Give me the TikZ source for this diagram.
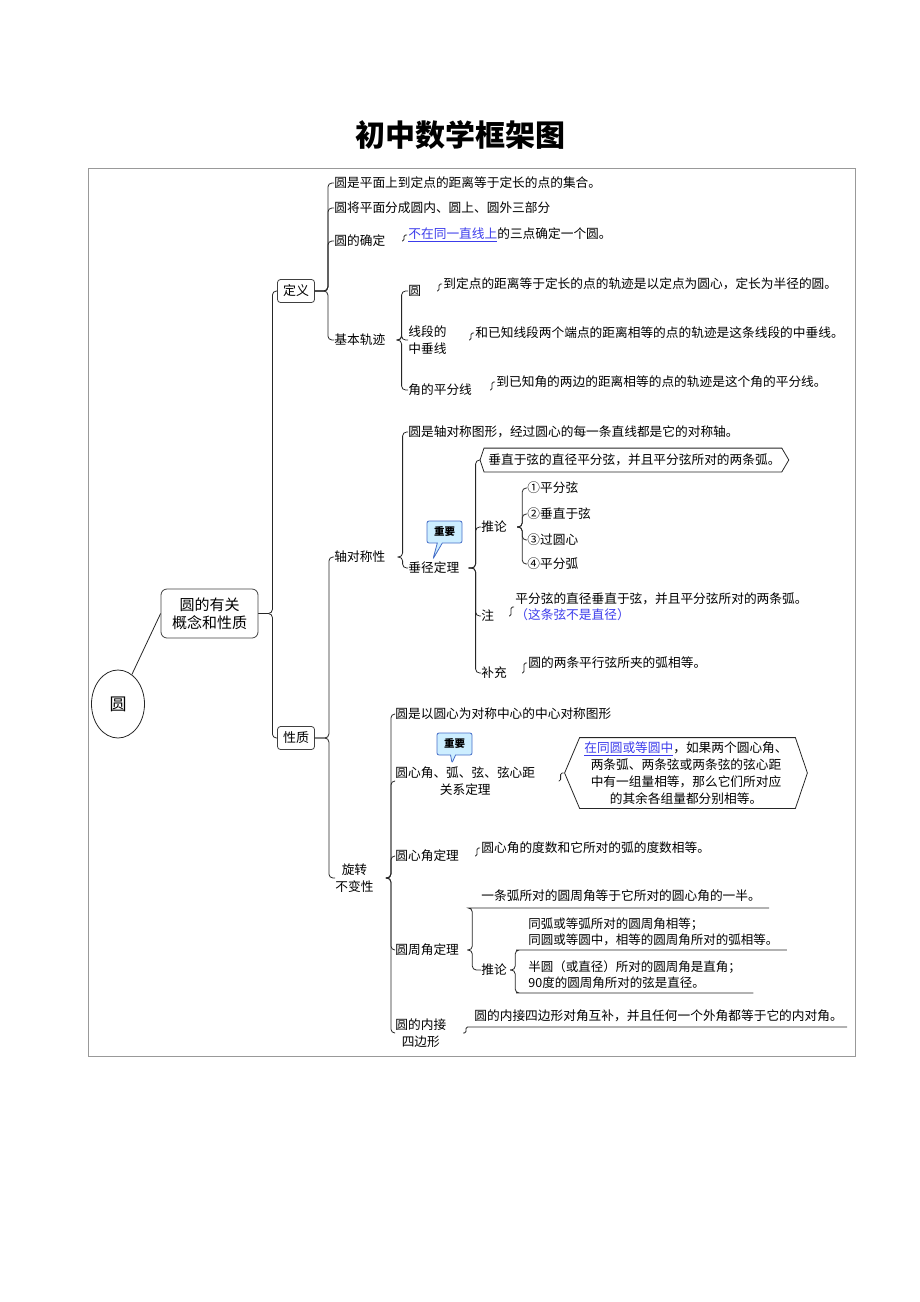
\documentclass[tikz,border=0pt]{standalone}
\usepackage{fontspec}
\setmainfont{Noto Sans CJK SC}
\usetikzlibrary{calc}
\usetikzlibrary{shapes.geometric}
\usetikzlibrary{shapes.callouts}
\definecolor{lnk}{RGB}{60,60,235}
\definecolor{imppen}{RGB}{70,110,200}
\definecolor{impfill}{RGB}{205,238,255}
\tikzset{every picture/.style={
    every path/.style={line width=0.8pt},
}}
\tikzset{
    txt/.style={anchor=west, inner sep=0pt, font=\fontsize{12.7}{17}\selectfont},
    brk/.style={draw=black!85, rounded corners=4pt},
    hk/.style={draw=black!85, rounded corners=1.5pt},
    topic/.style={draw=black!75, rounded corners=3pt, inner sep=0pt, minimum width=37pt, minimum height=23pt, font=\fontsize{13}{15}\selectfont},
    imp/.style={rectangle callout, draw=imppen, fill=impfill, rounded corners=2pt, minimum width=35pt, minimum height=22pt, inner sep=0pt, callout pointer width=5pt, font=\fontsize{10.5}{12}\selectfont\bfseries},
}

\begin{document}
\begin{tikzpicture}[x=1pt,y=-1pt]
    \useasboundingbox (0,0) rectangle (920,1302);
    \node[font=\fontsize{30}{32}\selectfont\bfseries] (title) at (460,135) {初中数学框架图};
    \draw[black!40] (88,168) rectangle (855,1056);

    % root and first level
    \node[draw=black!85, ellipse, inner sep=0pt, minimum width=53pt, minimum height=68pt, font=\fontsize{17}{19}\selectfont] (root) at (118,704) {圆};
    \node[draw=black!75, rounded corners=6pt, inner sep=0pt, minimum width=97pt, minimum height=49pt, align=center, font=\fontsize{15}{18}\selectfont] (gn) at (209.5,613.5) {圆的有关\\概念和性质};
    \draw[black!85] (root) -- (gn.west);
    \node[topic] (dingyi) at (296,291) {定义};
    \node[topic] (xingzhi) at (296,738) {性质};
    \foreach \c in {dingyi,xingzhi} \draw[brk] (gn.east) -- ++(14,0) |- (\c.west);

    % definition
    \node[txt] (d1) at (334,183) {圆是平面上到定点的距离等于定长的点的集合。};
    \node[txt] (d2) at (334,208) {圆将平面分成圆内、圆上、圆外三部分};
    \node[txt] (d3) at (334,241) {圆的确定};
    \node[txt] (d4) at (334,340) {基本轨迹};
    \foreach \c in {d1,d2,d3,d4} \draw[brk] (dingyi.east) -- ++(13,0) |- (\c.west);
    \node[txt] (d3a) at (408,235) {{\color{lnk}\underline{不在同一直线上}}的三点确定一个圆。};
    \draw[hk] ($(d3a.west |- d3.east)+(-6,0)$) -- ++(2,0) |- ([xshift=-1pt]d3a.west);

    \node[txt] (g1) at (408,291) {圆};
    \node[txt, align=left] (g2) at (408,340) {线段的\\中垂线};
    \node[txt] (g3) at (408,390) {角的平分线};
    \foreach \c in {g1,g2,g3} \draw[brk] ([xshift=11pt]d4.east) -- ++(5,0) |- (\c.west);
    \node[txt] (g1a) at (443,284) {到定点的距离等于定长的点的轨迹是以定点为圆心，定长为半径的圆。};
    \node[txt] (g2a) at (475,333) {和已知线段两个端点的距离相等的点的轨迹是这条线段的中垂线。};
    \node[txt] (g3a) at (496,382) {到已知角的两边的距离相等的点的轨迹是这个角的平分线。};
    \foreach \p/\c in {g1/g1a,g2/g2a,g3/g3a}
        \draw[hk] ($(\c.west |- \p.east)+(-6,0)$) -- ++(2,0) |- ([xshift=-1pt]\c.west);

    % properties
    \node[txt] (x1) at (334,557) {轴对称性};
    \node[txt, align=center] (x2) at (335,878) {旋转\\不变性};
    \foreach \c in {x1,x2} \draw[brk] (xingzhi.east) -- ++(14,0) |- (\c.west);

    % axial symmetry
    \node[txt] (z1) at (408,432) {圆是轴对称图形，经过圆心的每一条直线都是它的对称轴。};
    \node[txt] (z2) at (408,568) {垂径定理};
    \foreach \c in {z1,z2} \draw[brk] ([xshift=12pt]x1.east) -- ++(5,0) |- (\c.west);
    \coordinate (tip1) at (433,559);
    \node[imp, callout absolute pointer={(tip1)}] (imp1) at (444.5,532) {重要};

    \node[anchor=west, inner sep=0pt, minimum width=308pt, minimum height=23pt, font=\fontsize{12.7}{17}\selectfont] (c1) at (480,460) {垂直于弦的直径平分弦，并且平分弦所对的两条弧。};
    \draw[black!85] (c1.west) -- ([xshift=4pt]c1.north west) -- ([xshift=-7pt]c1.north east) -- (c1.east)
        -- ([xshift=-7pt]c1.south east) -- ([xshift=4pt]c1.south west) -- cycle;
    \node[txt] (c2) at (481,527) {推论};
    \node[txt] (c3) at (481,616) {注};
    \node[txt] (c4) at (481,673) {补充};
    \foreach \c in {c1,c2,c3,c4} \draw[brk] ([xshift=9pt]z2.east) -- ++(7,0) |- (\c.west);

    \node[txt] (t1) at (527,488) {①平分弦};
    \node[txt] (t2) at (527,514) {②垂直于弦};
    \node[txt] (t3) at (527,540) {③过圆心};
    \node[txt] (t4) at (527,564) {④平分弧};
    \foreach \c in {t1,t2,t3,t4} \draw[brk] ([xshift=10pt]c2.east) -- ++(5,0) |- (\c.west);

    \node[txt, align=left, font=\fontsize{12.7}{16}\selectfont] (c3a) at (515,607) {平分弦的直径垂直于弦，并且平分弦所对的两条弧。\\{\color{lnk}（这条弦不是直径）}};
    \node[txt] (c4a) at (528,663) {圆的两条平行弦所夹的弧相等。};
    \foreach \p/\c in {c3/c3a,c4/c4a}
        \draw[hk] ($(\c.west |- \p.east)+(-6,0)$) -- ++(2,0) |- ([xshift=-1pt]\c.west);

    % rotation invariance
    \node[txt] (r1) at (395,714) {圆是以圆心为对称中心的中心对称图形};
    \node[txt, align=center] (r2) at (395,781) {圆心角、弧、弦、弦心距\\关系定理};
    \node[txt] (r3) at (395,856) {圆心角定理};
    \node[txt] (r4) at (395,950) {圆周角定理};
    \node[txt, align=center] (r5) at (395,1033) {圆的内接\\四边形};
    \foreach \c in {r1,r2,r3,r4,r5} \draw[brk] ([xshift=12pt]x2.east) -- ++(5,0) |- (\c.west);
    \coordinate (tip2) at (452,763);
    \node[imp, callout absolute pointer={(tip2)}] (imp2) at (454.5,744) {重要};

    \node[inner sep=0pt, minimum width=242pt, minimum height=70pt, align=center, font=\fontsize{12.7}{17}\selectfont] (r2a) at (686,773)
        {{\color{lnk}\underline{在同圆或等圆中}}，如果两个圆心角、\\两条弧、两条弦或两条弦的弦心距\\中有一组量相等，那么它们所对应\\的其余各组量都分别相等。};
    \draw[black!85] (r2a.west) -- ([xshift=15pt]r2a.north west) -- ([xshift=-12pt]r2a.north east) -- (r2a.east)
        -- ([xshift=-12pt]r2a.south east) -- ([xshift=15pt]r2a.south west) -- cycle;
    \draw[hk] ($(r2a.west |- r2.east)+(-6,0)$) -- ++(2,0) |- ([xshift=-1pt]r2a.west);

    \node[txt] (r3a) at (481,848) {圆心角的度数和它所对的弧的度数相等。};
    \draw[hk] ($(r3a.west |- r3.east)+(-6,0)$) -- ++(2,0) |- ([xshift=-1pt]r3a.west);

    \node[txt] (p1) at (481,896) {一条弧所对的圆周角等于它所对的圆心角的一半。};
    \node[txt] (p2) at (481,970) {推论};
    \draw[brk] ([xshift=8pt]r4.east) -- ++(5,0) |- ($(p1.west)+(-9,12)$) -- ($(p1.east)+(8,12)$);
    \draw[brk] ([xshift=8pt]r4.east) -- ++(5,0) |- (p2.west);

    \node[txt, align=left, font=\fontsize{12.5}{16}\selectfont] (q1) at (528,932) {同弧或等弧所对的圆周角相等；\\同圆或等圆中，相等的圆周角所对的弧相等。};
    \node[txt, align=left, font=\fontsize{12.5}{16}\selectfont] (q2) at (528,975) {半圆（或直径）所对的圆周角是直角；\\90度的圆周角所对的弦是直径。};
    \draw[brk] ([xshift=3pt]p2.east) -- ++(5,0) |- ($(q1.west)+(-8,18)$) -- ($(q1.east)+(8,18)$);
    \draw[brk] ([xshift=3pt]p2.east) -- ++(5,0) |- ($(q2.west)+(-8,18)$) -- ($(q2.east)+(12,18)$);

    \node[txt] (r5a) at (474,1016) {圆的内接四边形对角互补，并且任何一个外角都等于它的内对角。};
    \draw[hk] ($(r5a.west |- r5.east)+(-11,0)$) -- ++(3,0) |- ($(r5a.east)+(4,11)$);
\end{tikzpicture}
\end{document}
